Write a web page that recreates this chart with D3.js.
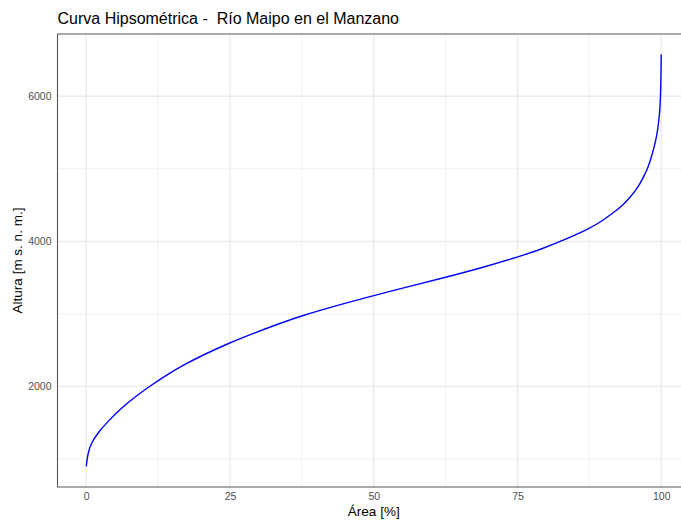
<!DOCTYPE html>
<html>
<head>
<meta charset="utf-8">
<script src="https://cdn.jsdelivr.net/npm/d3@7"></script>
<style>
  body{margin:0;background:#fff;}
  text{font-family:"Liberation Sans",Arial,sans-serif;}
</style>
</head>
<body>
<div class="chart"></div>
<script>
// curva hipsometrica
var area=[0,0.28,0.87,2.0,3.75,6.1,8.4,11,14,17,20.5,24.9,29,33.7,37.5,43.5,49.9,
	56,62.5,69,75.4,78.9,83,87.4,89.5,91.6,93.2,94.5,95.5,96.2,97.0,97.7,98.5,99.1,99.5,99.75,99.9,100];
var altura=[897,1081,1219,1357,1517,1702,1850,2000,2160,2300,2440,2600,2730,2870,2975,3115,3251,
	3375,3503,3640,3793,3885,4015,4171,4270,4391,4490,4598,4700,4780,4900,5012,5219,5403,5600,5800,6000,6575];
var xTicks=[0,25,50,75,100];
var yTicks=[2000,4000,6000];
var xMinor=[12.5,37.5,62.5,87.5];
var yMinor=[1000,3000,5000];

var width=681, height=525;
var pLeft=57.5, pTop=34, pBottom=487, pRight=690;

var svg=d3.select('div.chart')
		.append('svg')
		.attr('width',width)
		.attr('height',height);

var data=area.map(function(a,i){ return {x:a,y:altura[i]}; });

var xr=d3.extent(area), yr=d3.extent(altura);
var xpad=(xr[1]-xr[0])*0.05, ypad=(yr[1]-yr[0])*0.05;
var xScale=d3.scaleLinear().domain([xr[0]-xpad,xr[1]+xpad]).range([pLeft,pRight]);
var yScale=d3.scaleLinear().domain([yr[0]-ypad,yr[1]+ypad]).range([pBottom,pTop]);

// grid
var grid=svg.append('g');
grid.selectAll('.vmin').data(xMinor).enter().append('line')
	.attr('x1',d=>xScale(d)).attr('x2',d=>xScale(d))
	.attr('y1',pTop).attr('y2',pBottom)
	.attr('stroke','#ededed').attr('stroke-width',0.8);
grid.selectAll('.hmin').data(yMinor).enter().append('line')
	.attr('x1',pLeft).attr('x2',pRight)
	.attr('y1',d=>yScale(d)).attr('y2',d=>yScale(d))
	.attr('stroke','#ededed').attr('stroke-width',0.8);
grid.selectAll('.vmaj').data(xTicks).enter().append('line')
	.attr('x1',d=>xScale(d)).attr('x2',d=>xScale(d))
	.attr('y1',pTop).attr('y2',pBottom)
	.attr('stroke','#ebebeb').attr('stroke-width',1.4);
grid.selectAll('.hmaj').data(yTicks).enter().append('line')
	.attr('x1',pLeft).attr('x2',pRight)
	.attr('y1',d=>yScale(d)).attr('y2',d=>yScale(d))
	.attr('stroke','#ebebeb').attr('stroke-width',1.4);

// bordes del panel (izq, arriba, abajo)
svg.append('path')
	.attr('d','M'+pRight+','+pTop+'H'+pLeft+'V'+pBottom+'H'+pRight)
	.attr('fill','none')
	.attr('stroke','#555')
	.attr('stroke-width',1.1);

// ejes
var xAxis=svg.append('g')
	.attr('transform','translate(0,'+pBottom+')')
	.call(d3.axisBottom(xScale).tickValues(xTicks).tickSize(0).tickPadding(6).tickFormat(d3.format('d')));
var yAxis=svg.append('g')
	.attr('transform','translate('+pLeft+',0)')
	.call(d3.axisLeft(yScale).tickValues(yTicks).tickSize(0).tickPadding(6).tickFormat(d3.format('d')));
[xAxis,yAxis].forEach(function(a){
	a.select('.domain').remove();
	a.selectAll('text').attr('fill','#4d4d4d').attr('font-size','10.5px')
		.attr('font-family','"Liberation Sans",Arial,sans-serif');
});

// curva
var line=d3.line()
	.x(d=>xScale(d.x))
	.y(d=>yScale(d.y))
	.curve(d3.curveBasis);
svg.append('path')
	.datum(data)
	.attr('d',line)
	.attr('fill','none')
	.attr('stroke','#0000ff')
	.attr('stroke-width',1.4);

// titulos
svg.append('text')
	.attr('x',pLeft)
	.attr('y',24)
	.attr('font-size','16px')
	.style('white-space','pre')
	.text('Curva Hipsométrica -  Río Maipo en el Manzano');
svg.append('text')
	.attr('x',(pLeft+pRight)/2)
	.attr('y',516)
	.attr('text-anchor','middle')
	.attr('font-size','13.5px')
	.text('Área [%]');
svg.append('text')
	.attr('transform','translate(22,'+((pTop+pBottom)/2)+') rotate(-90)')
	.attr('text-anchor','middle')
	.attr('font-size','13.5px')
	.text('Altura [m s. n. m.]');
</script>
</body>
</html>
